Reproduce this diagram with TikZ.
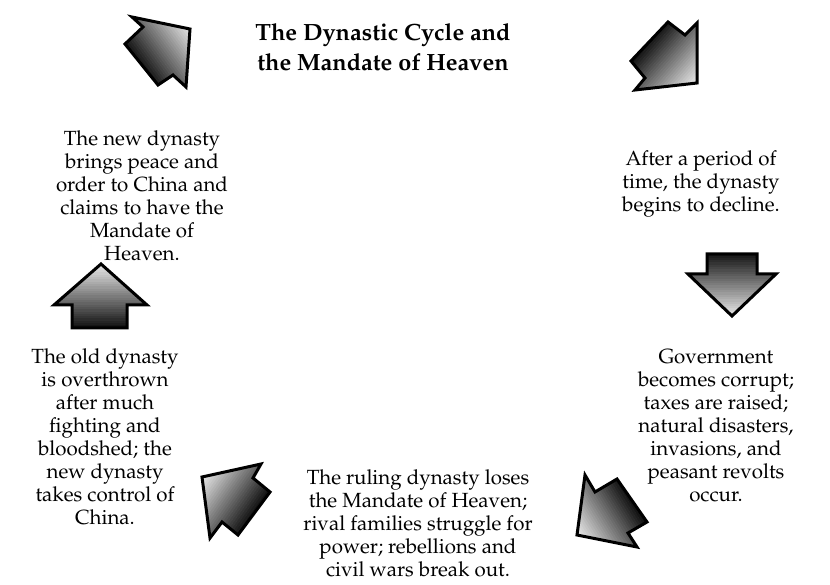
\documentclass[tikz,border=0pt]{standalone}
\usepackage[T1]{fontenc}
\usepackage{mathpazo}
\definecolor{dynInk}{HTML}{000000}

% faixas de cinza ao longo da seta (escura na cauda, clara na ponta)
\newcommand{\dynArrow}[4]{%
  \pgfmathsetmacro{\ux}{cos(#4)}%
  \pgfmathsetmacro{\uy}{sin(#4)}%
  \begin{scope}
    \clip #1;
    \foreach \k [evaluate=\k as \g using 95-3.1*\k, evaluate=\k as \s using -34+2.3*\k] in {0,...,29}
      \fill[black!\g] ({#2+\s*\ux-70*\uy},{#3+\s*\uy+70*\ux}) -- ({#2+(\s+2.8)*\ux-70*\uy},{#3+(\s+2.8)*\uy+70*\ux})
        -- ({#2+(\s+2.8)*\ux+70*\uy},{#3+(\s+2.8)*\uy-70*\ux}) -- ({#2+\s*\ux+70*\uy},{#3+\s*\uy-70*\ux}) -- cycle;
  \end{scope}
  \draw[dyn arrow] #1;}

\begin{document}
\begin{tikzpicture}[
    x=1pt, y=-1pt,
    dyn arrow/.style={draw=dynInk, line width=3pt, line join=miter},
    dyn step/.style={text=dynInk, font=\fontsize{20.5}{23}\selectfont, align=center, inner sep=0pt},
    dyn title/.style={text=dynInk, font=\fontsize{23.5}{30}\selectfont\bfseries, align=center, inner sep=0pt},
]
  \useasboundingbox (0,0) rectangle (830,585);

  % Posições dos textos.
  \coordinate (d-title) at (383,47);
  \coordinate (d-s1) at (701,184);
  \coordinate (d-s2) at (716,426);
  \coordinate (d-s3) at (418,523);
  \coordinate (d-s4) at (105,437);
  \coordinate (d-s5) at (142,196);

  % Setas.
  \dynArrow{(190,29) -- (132,17) -- (143,27) -- (125,44) -- (158,85) -- (173,75) -- (186,87) -- cycle}{166}{47}{-36}
  \dynArrow{(697,83) -- (697,23) -- (685,35) -- (668,22) -- (631,61) -- (645,78) -- (635,90) -- cycle}{673}{62}{41}
  \dynArrow{(732,316) -- (776,274) -- (757,274) -- (757,254) -- (707,254) -- (707,274) -- (688,274) -- cycle}{732}{285}{90}
  \dynArrow{(577,535) -- (585,475) -- (595,492) -- (617,479) -- (647,522) -- (628,533) -- (637,547) -- cycle}{604.5}{518}{148}
  \dynArrow{(202,477) -- (261,464) -- (253,478) -- (270,492) -- (238,535) -- (222,522) -- (210,538) -- cycle}{228}{495}{215}
  \dynArrow{(101,264) -- (147,305) -- (127,305) -- (127,328) -- (72,328) -- (72,305) -- (54,305) -- cycle}{100}{296}{-90}

  % Rótulos.
  \node[dyn title] (title) at (d-title) {The Dynastic Cycle and\\the Mandate of Heaven};
  \node[dyn step] (s1) at (d-s1) {After a period of\\time, the dynasty\\begins to decline.};
  \node[dyn step] (s2) at (d-s2) {Government\\becomes corrupt;\\taxes are raised;\\natural disasters,\\invasions, and\\peasant revolts\\occur.};
  \node[dyn step] (s3) at (d-s3) {The ruling dynasty loses\\the Mandate of Heaven;\\rival families struggle for\\power; rebellions and\\civil wars break out.};
  \node[dyn step] (s4) at (d-s4) {The old dynasty\\is overthrown\\after much\\fighting and\\bloodshed; the\\new dynasty\\takes control of\\China.};
  \node[dyn step] (s5) at (d-s5) {The new dynasty\\brings peace and\\order to China and\\claims to have the\\Mandate of\\Heaven.};
\end{tikzpicture}
\end{document}
